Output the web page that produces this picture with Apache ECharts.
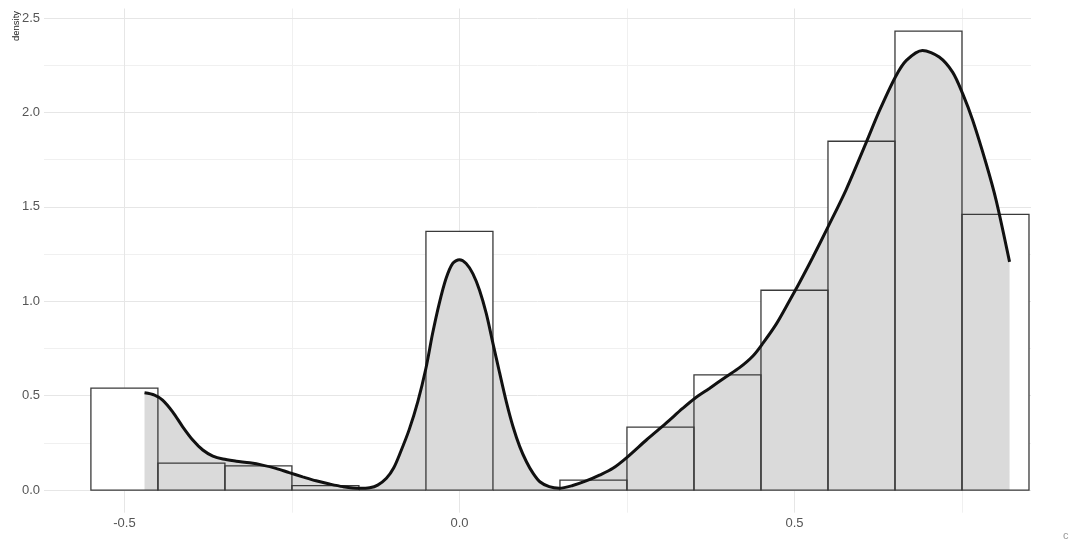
<!DOCTYPE html>
<html>
<head>
<meta charset="utf-8">
<script src="https://cdn.jsdelivr.net/npm/echarts@6/dist/echarts.min.js"></script>
<style>
html,body{margin:0;padding:0;background:#fff;}
#chart{width:1071px;height:541px;}
</style>
</head>
<body>
<div id="chart"></div>
<script>
// Histogram bins (left edge, right edge) and density heights
var binLeft  = [-0.55,-0.45,-0.35,-0.25,-0.15,-0.05,0.05,0.15,0.25,0.35,0.45,0.55,0.65,0.75];
var binRight = [-0.45,-0.35,-0.25,-0.15,-0.05,0.05,0.15,0.25,0.35,0.45,0.55,0.65,0.75,0.85];
var binHeight = [0.54,0.143,0.128,0.023,0,1.37,0,0.053,0.333,0.61,1.058,1.847,2.43,1.46];

// Kernel density curve (x, density)
var densX = [-0.470,-0.455,-0.443,-0.428,-0.413,-0.398,-0.383,-0.368,-0.353,-0.333,-0.313,-0.294,-0.274,-0.254,-0.234,-0.214,-0.194,-0.174,-0.149,-0.134,-0.122,-0.109,-0.098,-0.088,-0.075,-0.062,-0.050,-0.040,-0.030,-0.020,-0.010,0.000,0.010,0.020,0.030,0.040,0.050,0.060,0.070,0.080,0.090,0.100,0.110,0.120,0.134,0.149,0.169,0.189,0.209,0.229,0.251,0.279,0.308,0.333,0.351,0.373,0.398,0.418,0.438,0.453,0.473,0.493,0.507,0.527,0.551,0.577,0.607,0.627,0.651,0.667,0.691,0.716,0.736,0.751,0.766,0.786,0.801,0.821];
var densY = [0.515,0.503,0.476,0.414,0.335,0.265,0.212,0.180,0.164,0.153,0.144,0.132,0.115,0.092,0.070,0.049,0.032,0.018,0.009,0.012,0.026,0.062,0.118,0.200,0.32,0.47,0.645,0.83,0.99,1.12,1.20,1.22,1.20,1.146,1.058,0.935,0.777,0.62,0.467,0.335,0.23,0.15,0.088,0.044,0.018,0.010,0.024,0.048,0.079,0.115,0.176,0.265,0.353,0.432,0.485,0.538,0.600,0.648,0.710,0.778,0.880,1.005,1.095,1.23,1.40,1.59,1.84,2.01,2.19,2.275,2.328,2.293,2.213,2.099,1.958,1.729,1.534,1.208];

// Tick values
var xMajor = [-0.5, 0, 0.5];
var xMinor = [-0.25, 0.25, 0.75];
var yMajor = [0, 0.5, 1.0, 1.5, 2.0, 2.5];
var yMinor = [0.25, 0.75, 1.25, 1.75, 2.25];

var barData = binLeft.map(function(l, i){ return [l, binRight[i], binHeight[i]]; });
var densData = densX.map(function(x, i){ return [x, densY[i]]; });

var gridLines = [];
xMinor.forEach(function(v){ gridLines.push({xAxis: v, lineStyle:{color:'#f0f0f0', width:1, type:'solid'}}); });
yMinor.forEach(function(v){ gridLines.push({yAxis: v, lineStyle:{color:'#f0f0f0', width:1, type:'solid'}}); });
xMajor.forEach(function(v){ gridLines.push({xAxis: v, lineStyle:{color:'#e6e6e6', width:1, type:'solid'}}); });
yMajor.forEach(function(v){ gridLines.push({yAxis: v, lineStyle:{color:'#e6e6e6', width:1, type:'solid'}}); });

function rectItem(fill, stroke){
  return function(params, api){
    var x0 = api.value(0), x1 = api.value(1), h = api.value(2);
    var p0 = api.coord([x0, h]);
    var p1 = api.coord([x1, 0]);
    return {
      type: 'rect',
      shape: {x: p0[0], y: p0[1], width: p1[0] - p0[0], height: p1[1] - p0[1]},
      style: {fill: fill, stroke: stroke, lineWidth: stroke === 'none' ? 0 : 1.3}
    };
  };
}

var chart = echarts.init(document.getElementById('chart'), null, {renderer:'canvas'});
chart.setOption({
  animation: false,
  backgroundColor: '#ffffff',
  grid: {left: 44, right: 40, top: 8.5, bottom: 28.3, containLabel: false, outerBoundsMode: 'none'},
  xAxis: {
    type: 'value', min: -0.62, max: 0.853,
    axisLine: {show: false}, axisTick: {show: false}, splitLine: {show: false},
    axisLabel: {customValues: xMajor, color: '#555', fontSize: 13, fontFamily: 'Liberation Sans, Arial, sans-serif', margin: 4,
      formatter: function(v){ return v.toFixed(1); }}
  },
  yAxis: {
    type: 'value', min: -0.12, max: 2.55,
    axisLine: {show: false}, axisTick: {show: false}, splitLine: {show: false},
    axisLabel: {customValues: yMajor, color: '#555', fontSize: 13, fontFamily: 'Liberation Sans, Arial, sans-serif', margin: 4,
      formatter: function(v){ return v.toFixed(1); }}
  },
  graphic: [
    {type: 'text', rotation: Math.PI/2, x: 11, y: 41,
     style: {text: 'density', fill: '#222', font: '9.5px Liberation Sans, Arial, sans-serif'}, z: 10},
    {type: 'text', x: 1063, y: 530, style: {text: 'c', fill: '#999', font: '11px Liberation Sans, Arial, sans-serif'}}
  ],
  series: [
    {
      type: 'line', data: [[-0.62, -0.12]], symbol: 'none', lineStyle: {width: 0}, z: 0, zlevel: 0, silent: true,
      markLine: {silent: true, z: 0, symbol: 'none', label: {show: false}, data: gridLines, animation: false}
    },
    {
      type: 'custom', data: barData, renderItem: rectItem('#ffffff', 'none'), z: 1, silent: true
    },
    {
      type: 'line', data: densData, smooth: 0.3, symbol: 'none',
      lineStyle: {width: 0}, areaStyle: {color: '#dadada', opacity: 1}, z: 2, silent: true
    },
    {
      type: 'custom', data: barData, renderItem: rectItem('none', '#3a3a3a'), z: 3, silent: true
    },
    {
      type: 'line', data: densData, smooth: 0.3, symbol: 'none',
      lineStyle: {width: 3, color: '#111'}, z: 4, silent: true
    }
  ]
});
</script>
</body>
</html>
